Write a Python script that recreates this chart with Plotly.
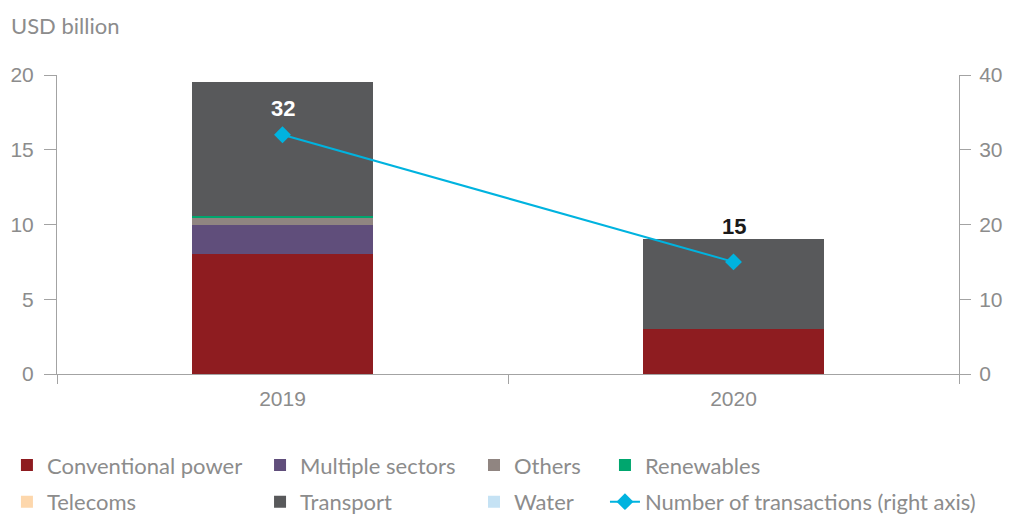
import plotly.graph_objects as go

# Infrastructure finance by sector (USD billion) and number of transactions
years = ["2019", "2020"]
conventional_power = [8.0, 3.0]
multiple_sectors = [2.0, 0.0]
others = [0.5, 0.0]
renewables = [0.1, 0.0]
telecoms = [0.0, 0.0]
transport = [8.9, 6.0]
water = [0.0, 0.0]
transactions = [32, 15]

sector_series = [
    ("Conventional power", conventional_power, "#8e1c20", "legend"),
    ("Multiple sectors", multiple_sectors, "#604e7b", "legend2"),
    ("Others", others, "#908581", "legend3"),
    ("Renewables", renewables, "#00a66e", "legend4"),
    ("Telecoms", telecoms, "#fdd7ac", "legend"),
    ("Transport", transport, "#58595b", "legend2"),
    ("Water", water, "#c5e2f4", "legend3"),
]

GREY = "#8c8c8c"
AXIS = "#a3a3a3"
LEGEND_FONT = dict(family="Lato", size=22, color=GREY)
TICK_FONT = dict(family="Liberation Sans", size=21, color=GREY)

fig = go.Figure()

for name, values, colour, legend_id in sector_series:
    fig.add_trace(go.Bar(
        x=years, y=values, name=name,
        marker=dict(color=colour, line=dict(width=0)),
        width=0.4, legend=legend_id, legendgroup=name,
    ))

line_name = "Number of transactions (right axis)"
fig.add_trace(go.Scatter(
    x=years, y=transactions, name=line_name,
    yaxis="y2", mode="lines+markers",
    line=dict(color="#00b3df", width=2),
    marker=dict(symbol="diamond", size=13, color="#00b3df"),
    legend="legend4", legendgroup=line_name,
))

# value labels above the transaction points (x given as category index)
label_colours = ["#ffffff", "#1a1a1a"]
label_shifts = [26, 35]
for i, (n, col, shift) in enumerate(zip(transactions, label_colours, label_shifts)):
    fig.add_annotation(
        x=i, y=n, xref="x", yref="y2", text=f"<b>{n}</b>",
        showarrow=False, yshift=shift,
        font=dict(family="Liberation Sans", size=22, color=col),
    )

fig.add_annotation(
    x=-0.0532, y=1.164, xref="paper", yref="paper", text="USD billion",
    xanchor="left", yanchor="middle", showarrow=False,
    font=dict(family="Lato", size=22, color=GREY),
)

legend_common = dict(
    orientation="v", yanchor="top", y=-0.235, xanchor="left",
    font=LEGEND_FONT, bgcolor="rgba(0,0,0,0)", tracegroupgap=5,
    itemwidth=30, traceorder="grouped",
)

fig.update_layout(
    width=1009, height=514,
    margin=dict(l=57, r=50, t=75, b=140, autoexpand=False),
    paper_bgcolor="white", plot_bgcolor="white",
    barmode="stack", bargap=0.6,
    xaxis=dict(
        type="category", range=[-0.5, 1.5], showline=True, linecolor=AXIS,
        linewidth=1, ticks="outside", tickson="boundaries", ticklen=9,
        tickcolor=AXIS, tickfont=TICK_FONT, showgrid=False, zeroline=False,
        ticklabelstandoff=6,
    ),
    yaxis=dict(
        range=[0, 20], dtick=5, showline=True, linecolor=AXIS, linewidth=1,
        ticks="outside", ticklen=12, tickcolor=AXIS, tickfont=TICK_FONT,
        showgrid=False, zeroline=False, ticklabelstandoff=6,
    ),
    yaxis2=dict(
        range=[0, 40], dtick=10, overlaying="y", side="right",
        showline=True, linecolor=AXIS, linewidth=1,
        ticks="outside", ticklen=11, tickcolor=AXIS, tickfont=TICK_FONT,
        showgrid=False, zeroline=False, ticklabelstandoff=4,
    ),
    legend=dict(x=-0.0555, **legend_common),
    legend2=dict(x=0.2251, **legend_common),
    legend3=dict(x=0.4623, **legend_common),
    legend4=dict(x=0.6075, **legend_common),
)

fig.write_html("out.html")
